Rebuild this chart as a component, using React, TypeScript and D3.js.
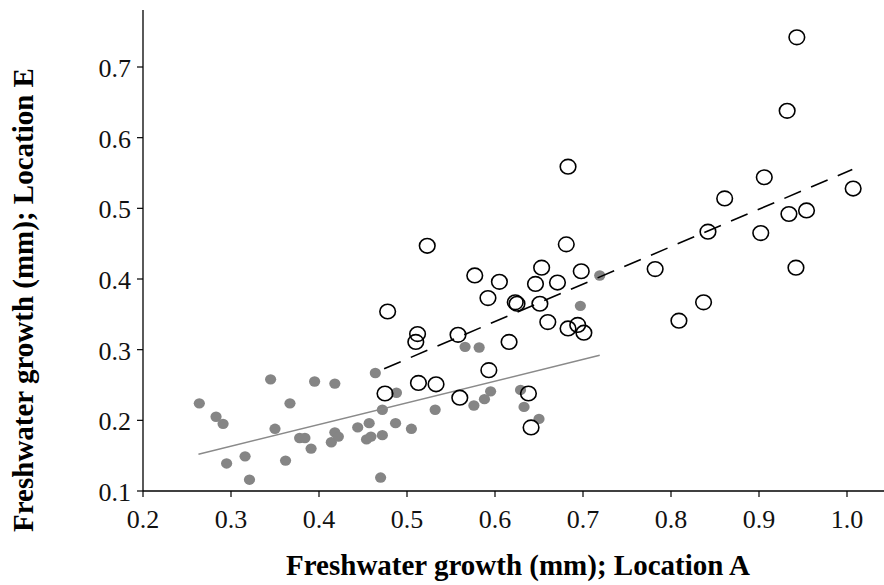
import React from "react";
import * as d3 from "d3";

// Filled grey points (Location A vs E, group 1)
const filledX = [0.264, 0.283, 0.291, 0.295, 0.316, 0.321, 0.345, 0.350, 0.362, 0.367,
  0.378, 0.384, 0.391, 0.395, 0.414, 0.418, 0.422, 0.418, 0.444, 0.454,
  0.457, 0.459, 0.464, 0.470, 0.472, 0.472, 0.487, 0.488, 0.505, 0.532,
  0.566, 0.576, 0.582, 0.588, 0.595, 0.629, 0.633, 0.650, 0.697, 0.719];
const filledY = [0.224, 0.205, 0.195, 0.139, 0.149, 0.116, 0.258, 0.188, 0.143, 0.224,
  0.175, 0.175, 0.160, 0.255, 0.169, 0.183, 0.177, 0.252, 0.190, 0.173,
  0.196, 0.177, 0.267, 0.119, 0.179, 0.215, 0.196, 0.239, 0.188, 0.215,
  0.304, 0.221, 0.303, 0.230, 0.241, 0.243, 0.219, 0.202, 0.362, 0.405];

// Open circles (group 2)
const openX = [0.943, 0.932, 0.683, 0.906, 1.007, 0.861, 0.934, 0.954, 0.842, 0.902,
  0.523, 0.681, 0.942, 0.782, 0.653, 0.698, 0.577, 0.605, 0.646, 0.671,
  0.592, 0.623, 0.625, 0.651, 0.837, 0.478, 0.660, 0.809, 0.683, 0.694,
  0.701, 0.512, 0.510, 0.558, 0.616, 0.593, 0.513, 0.533, 0.475, 0.560,
  0.638, 0.641];
const openY = [0.742, 0.638, 0.559, 0.544, 0.528, 0.514, 0.492, 0.497, 0.467, 0.465,
  0.447, 0.449, 0.416, 0.414, 0.416, 0.411, 0.405, 0.396, 0.393, 0.395,
  0.373, 0.367, 0.365, 0.365, 0.367, 0.354, 0.339, 0.341, 0.330, 0.335,
  0.324, 0.322, 0.311, 0.321, 0.311, 0.271, 0.253, 0.251, 0.238, 0.232,
  0.238, 0.190];

// Regression lines (endpoints)
const fitFilledX = [0.263, 0.719];
const fitFilledY = [0.152, 0.292];
const fitOpenX = [0.474, 1.006];
const fitOpenY = [0.273, 0.555];

const xTicks = [0.2, 0.3, 0.4, 0.5, 0.6, 0.7, 0.8, 0.9, 1.0];
const yTicks = [0.1, 0.2, 0.3, 0.4, 0.5, 0.6, 0.7];

const xTitle = "Freshwater growth (mm); Location A";
const yTitle = "Freshwater growth (mm); Location E";

export default function App() {
  const W = 884, H = 585;
  const x = d3.scaleLinear().domain([0.2, 1.0]).range([143, 847]);
  const y = d3.scaleLinear().domain([0.1, 0.7]).range([491, 67]);
  const line = d3.line<[number, number]>().x(d => x(d[0])).y(d => y(d[1]));
  const fitA = line(fitFilledX.map((v, i) => [v, fitFilledY[i]]) as [number, number][]) || "";
  const fitB = line(fitOpenX.map((v, i) => [v, fitOpenY[i]]) as [number, number][]) || "";
  const ts = { fontFamily: "'Liberation Serif', 'Times New Roman', serif" };
  const x0 = x(0.2), y0 = y(0.1);
  return (
    <svg width={W} height={H} style={{ position: "absolute", left: 0, top: 0, background: "#fff" }}>
      <rect x={0} y={0} width={W} height={H} fill="#fff" />
      {/* axes */}
      <line x1={x0} x2={x0} y1={10} y2={y0} stroke="#000" strokeWidth={1.3} />
      <line x1={x0} x2={884} y1={y0} y2={y0} stroke="#000" strokeWidth={1.3} />
      {xTicks.map(t => (
        <g key={"xt" + t}>
          <line x1={x(t)} x2={x(t)} y1={y0} y2={y0 + 6} stroke="#000" strokeWidth={1.2} />
          <text x={x(t)} y={528} fontSize={26} textAnchor="middle" fill="#111" style={ts}>{t.toFixed(1)}</text>
        </g>
      ))}
      {yTicks.map(t => (
        <g key={"yt" + t}>
          <line x1={x0 - 6} x2={x0} y1={y(t)} y2={y(t)} stroke="#000" strokeWidth={1.2} />
          <text x={131} y={y(t) + 10} fontSize={26} textAnchor="end" fill="#111" style={ts}>{t.toFixed(1)}</text>
        </g>
      ))}
      {/* filled points */}
      {filledX.map((v, i) => (
        <ellipse key={"f" + i} cx={x(v)} cy={y(filledY[i])} rx={5.6} ry={5.2} fill="#858585" />
      ))}
      <path d={fitA} stroke="#8a8a8a" strokeWidth={1.5} fill="none" />
      {/* open circles */}
      {openX.map((v, i) => (
        <ellipse key={"o" + i} cx={x(v)} cy={y(openY[i])} rx={7.8} ry={7.3} fill="none" stroke="#000" strokeWidth={1.6} />
      ))}
      <path d={fitB} stroke="#000" strokeWidth={1.6} fill="none" strokeDasharray="18,11" />
      {/* titles */}
      <text x={518} y={575} fontSize={29} fontWeight="bold" textAnchor="middle" fill="#000" style={ts}>{xTitle}</text>
      <text transform={`translate(33,300) rotate(-90)`} fontSize={29} fontWeight="bold" textAnchor="middle" fill="#000" style={ts}>{yTitle}</text>
    </svg>
  );
}
